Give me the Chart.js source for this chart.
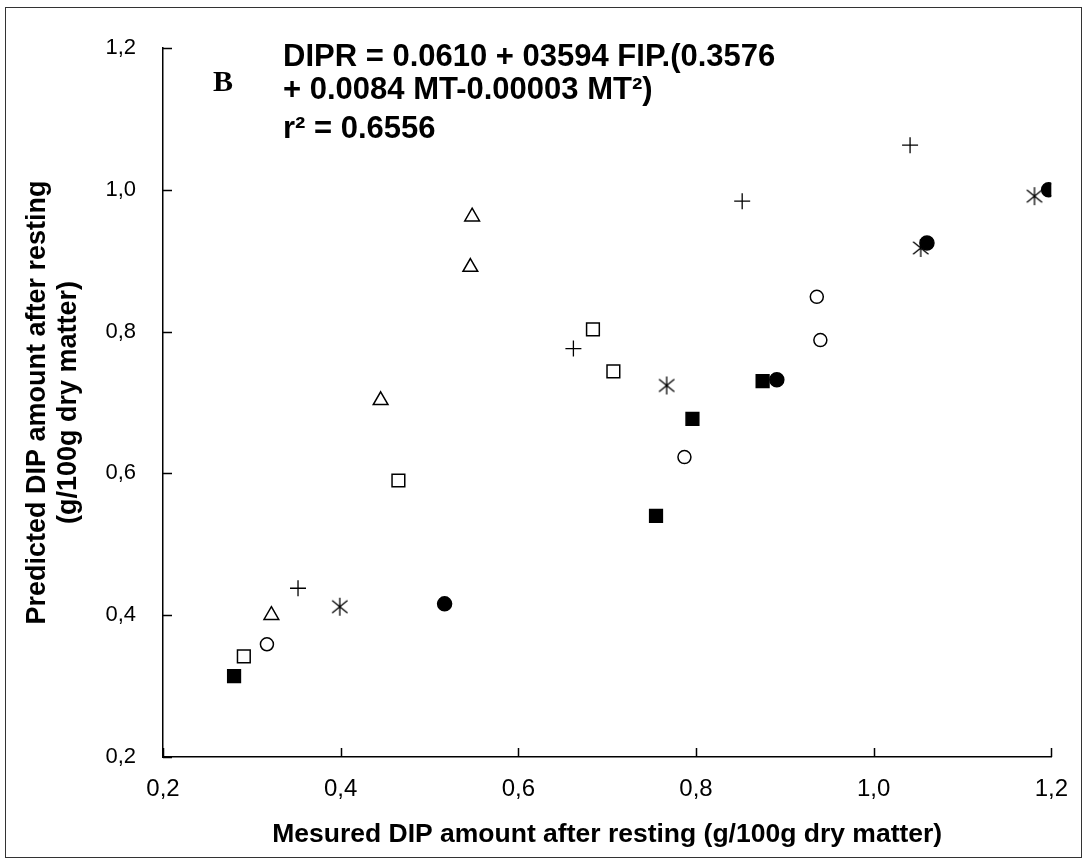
<!DOCTYPE html>
<html>
<head>
<meta charset="utf-8">
<script src="https://cdn.jsdelivr.net/npm/chart.js@4.4.0/dist/chart.umd.min.js"></script>
<style>
    html, body { margin: 0; padding: 0; background: #ffffff; }
    #wrap { position: relative; width: 1086px; height: 862px; overflow: hidden; }
    #frame { position: absolute; left: 5px; top: 7px; width: 1077px; height: 851px; border: 1px solid #333; box-sizing: border-box; pointer-events: none; }
</style>
</head>
<body>
<div id="wrap">
    <canvas id="dipChart" width="1086" height="862"></canvas>
    <div id="frame"></div>
</div>
<script>
// Measured vs predicted DIP amount after resting, one x/y pair per marker type
const filledSquareX = [0.280, 0.755, 0.796, 0.875];
const filledSquareY = [0.314, 0.540, 0.677, 0.730];
const openSquareX = [0.291, 0.465, 0.684, 0.707];
const openSquareY = [0.342, 0.590, 0.803, 0.744];
const openCircleX = [0.317, 0.787, 0.936, 0.940];
const openCircleY = [0.359, 0.623, 0.849, 0.788];
const triangleX = [0.322, 0.445, 0.546, 0.548];
const triangleY = [0.400, 0.703, 0.891, 0.962];
const plusX = [0.352, 0.662, 0.852, 1.041];
const plusY = [0.438, 0.776, 0.984, 1.063];
const asteriskX = [0.399, 0.767, 1.053, 1.181];
const asteriskY = [0.412, 0.724, 0.918, 0.991];
const filledCircleX = [0.517, 0.891, 1.060, 1.197];
const filledCircleY = [0.416, 0.732, 0.925, 1.000];

// Axis range and tick step (same for both axes)
const axisMin = 0.2;
const axisMax = 1.2;
const axisStep = 0.2;

const equationLines = [
    'DIPR = 0.0610 + 03594 FIP.(0.3576',
    '+ 0.0084 MT-0.00003 MT\u00b2)',
    'r\u00b2 = 0.6556'
];
const panelLetter = 'B';

const sansFont = "'Liberation Sans', Arial, sans-serif";

function toPoints(xs, ys) {
    return xs.map((x, i) => ({ x: x, y: ys[i] }));
}

// six-armed asterisk marker (vertical + two diagonals)
function makeAsterisk(size) {
    const c = document.createElement('canvas');
    c.width = size;
    c.height = size;
    const g = c.getContext('2d');
    const m = size / 2;
    const r = size / 2 - 1;
    g.strokeStyle = '#000000';
    g.lineWidth = 1.3;
    g.beginPath();
    g.moveTo(m, m - r); g.lineTo(m, m + r);
    g.moveTo(m - r * 0.85, m - r * 0.7); g.lineTo(m + r * 0.85, m + r * 0.7);
    g.moveTo(m - r * 0.85, m + r * 0.7); g.lineTo(m + r * 0.85, m - r * 0.7);
    g.stroke();
    return c;
}

function commaLabel(value) {
    return Number(value).toFixed(1).replace('.', ',');
}

// ticks on the inside of the axes, like the original figure
const inwardTicks = {
    id: 'inwardTicks',
    afterDraw(chart) {
        const { ctx, chartArea, scales } = chart;
        ctx.save();
        ctx.strokeStyle = '#000000';
        ctx.lineWidth = 1.5;
        ctx.beginPath();
        scales.x.ticks.forEach(t => {
            const px = Math.round(scales.x.getPixelForValue(t.value)) + 0.5;
            ctx.moveTo(px, chartArea.bottom);
            ctx.lineTo(px, chartArea.bottom - 9);
        });
        scales.y.ticks.forEach(t => {
            const py = Math.round(scales.y.getPixelForValue(t.value)) + 0.5;
            ctx.moveTo(chartArea.left, py);
            ctx.lineTo(chartArea.left + 9, py);
        });
        ctx.stroke();
        ctx.restore();
    }
};

// panel letter and regression equation
const equationText = {
    id: 'equationText',
    afterDraw(chart) {
        const { ctx } = chart;
        ctx.save();
        ctx.fillStyle = '#000000';
        ctx.textBaseline = 'alphabetic';
        ctx.textAlign = 'left';
        ctx.font = "bold 30px 'Liberation Serif', 'Times New Roman', serif";
        ctx.fillText(panelLetter, 213, 91);
        ctx.font = "bold 31px 'Liberation Sans', Arial, sans-serif";
        const baselines = [66, 99, 138];
        equationLines.forEach((line, i) => ctx.fillText(line, 283, baselines[i]));
        ctx.restore();
    }
};

const ctx = document.getElementById('dipChart');

const markerBase = {
    showLine: false,
    borderColor: '#000000',
    pointBorderColor: '#000000',
    pointBorderWidth: 1.5
};

new Chart(ctx, {
    type: 'scatter',
    data: {
        datasets: [
            Object.assign({}, markerBase, { label: 'filled square', data: toPoints(filledSquareX, filledSquareY), pointStyle: 'rect', pointRadius: 9, pointBackgroundColor: '#000000' }),
            Object.assign({}, markerBase, { label: 'open square', data: toPoints(openSquareX, openSquareY), pointStyle: 'rect', pointRadius: 9, pointBackgroundColor: '#ffffff' }),
            Object.assign({}, markerBase, { label: 'open circle', data: toPoints(openCircleX, openCircleY), pointStyle: 'circle', pointRadius: 6.5, pointBackgroundColor: '#ffffff' }),
            Object.assign({}, markerBase, { label: 'triangle', data: toPoints(triangleX, triangleY), pointStyle: 'triangle', pointRadius: 8.5, pointBackgroundColor: '#ffffff' }),
            Object.assign({}, markerBase, { label: 'plus', data: toPoints(plusX, plusY), pointStyle: 'cross', pointRadius: 8, pointBorderWidth: 1.3 }),
            Object.assign({}, markerBase, { label: 'asterisk', data: toPoints(asteriskX, asteriskY), pointStyle: makeAsterisk(20) }),
            Object.assign({}, markerBase, { label: 'filled circle', data: toPoints(filledCircleX, filledCircleY), pointStyle: 'circle', pointRadius: 7, pointBackgroundColor: '#000000' })
        ]
    },
    plugins: [inwardTicks, equationText],
    options: {
        responsive: false,
        devicePixelRatio: 1,
        animation: false,
        layout: {
            padding: { left: 5, right: 32, top: 48, bottom: 5 }
        },
        scales: {
            x: {
                type: 'linear',
                min: axisMin,
                max: axisMax,
                afterFit: (scale) => { scale.height = 100; },
                ticks: {
                    stepSize: axisStep,
                    padding: 18,
                    color: '#000000',
                    font: { family: sansFont, size: 24 },
                    callback: commaLabel
                },
                grid: { display: false, drawTicks: false },
                border: { display: true, color: '#000000', width: 1.5 },
                title: {
                    display: true,
                    text: 'Mesured DIP amount after resting (g/100g dry matter)',
                    color: '#000000',
                    font: { family: sansFont, size: 26.5, weight: 'bold' },
                    padding: { top: 0, bottom: 6 }
                }
            },
            y: {
                type: 'linear',
                min: axisMin,
                max: axisMax,
                afterFit: (scale) => { scale.width = 158; },
                ticks: {
                    stepSize: axisStep,
                    padding: 27,
                    color: '#000000',
                    font: { family: sansFont, size: 22 },
                    callback: commaLabel
                },
                grid: { display: false, drawTicks: false },
                border: { display: true, color: '#000000', width: 1.5 },
                title: {
                    display: true,
                    text: ['Predicted DIP amount after resting', '(g/100g dry matter)'],
                    color: '#000000',
                    font: { family: sansFont, size: 27, weight: 'bold', lineHeight: 1.15 },
                    padding: { top: 17, bottom: 0 }
                }
            }
        },
        plugins: {
            legend: { display: false },
            title: { display: false },
            tooltip: { enabled: false }
        }
    }
});
</script>
</body>
</html>
